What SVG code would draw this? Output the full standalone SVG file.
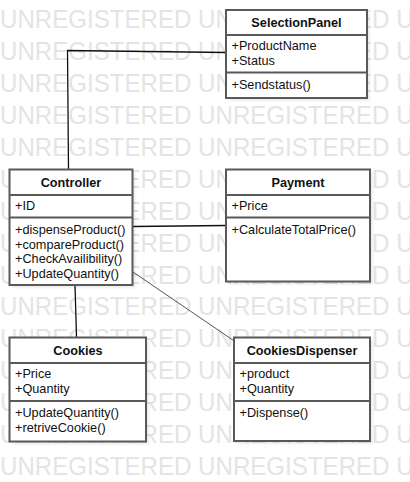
<svg xmlns="http://www.w3.org/2000/svg" width="410" height="482" viewBox="0 0 410 482">
<defs>
<style>
.wm{font-family:"Liberation Sans",Arial,sans-serif;font-size:25.5px;fill:#e4e4e4}
.box{fill:#fff;stroke:#595959;stroke-width:2}
.div{stroke:#595959;stroke-width:2}
.sh{fill:#000;opacity:0.07}
.t{font-family:"Liberation Sans",Arial,sans-serif;font-size:12.7px;fill:#111}
.h{font-family:"Liberation Sans",Arial,sans-serif;font-size:12.7px;font-weight:bold;fill:#111;text-anchor:middle}
.c{fill:none;stroke:#111;stroke-width:1.3}
.c2{fill:none;stroke:#555;stroke-width:1}
</style>
<filter id="blur" x="-10%" y="-10%" width="120%" height="120%"><feGaussianBlur stdDeviation="1.2"/></filter>
</defs>
<rect width="410" height="482" fill="#fff"/>
<g id="watermark">
<text class="wm" x="0" y="28.3" textLength="413.6" lengthAdjust="spacingAndGlyphs">UNREGISTERED UNREGISTERED U</text>
<text class="wm" x="0" y="60.2" textLength="413.6" lengthAdjust="spacingAndGlyphs">UNREGISTERED UNREGISTERED U</text>
<text class="wm" x="0" y="92.1" textLength="413.6" lengthAdjust="spacingAndGlyphs">UNREGISTERED UNREGISTERED U</text>
<text class="wm" x="0" y="124" textLength="413.6" lengthAdjust="spacingAndGlyphs">UNREGISTERED UNREGISTERED U</text>
<text class="wm" x="0" y="155.9" textLength="413.6" lengthAdjust="spacingAndGlyphs">UNREGISTERED UNREGISTERED U</text>
<text class="wm" x="0" y="187.8" textLength="413.6" lengthAdjust="spacingAndGlyphs">UNREGISTERED UNREGISTERED U</text>
<text class="wm" x="0" y="219.7" textLength="413.6" lengthAdjust="spacingAndGlyphs">UNREGISTERED UNREGISTERED U</text>
<text class="wm" x="0" y="251.6" textLength="413.6" lengthAdjust="spacingAndGlyphs">UNREGISTERED UNREGISTERED U</text>
<text class="wm" x="0" y="283.5" textLength="413.6" lengthAdjust="spacingAndGlyphs">UNREGISTERED UNREGISTERED U</text>
<text class="wm" x="0" y="315.4" textLength="413.6" lengthAdjust="spacingAndGlyphs">UNREGISTERED UNREGISTERED U</text>
<text class="wm" x="0" y="347.3" textLength="413.6" lengthAdjust="spacingAndGlyphs">UNREGISTERED UNREGISTERED U</text>
<text class="wm" x="0" y="379.2" textLength="413.6" lengthAdjust="spacingAndGlyphs">UNREGISTERED UNREGISTERED U</text>
<text class="wm" x="0" y="411.1" textLength="413.6" lengthAdjust="spacingAndGlyphs">UNREGISTERED UNREGISTERED U</text>
<text class="wm" x="0" y="443" textLength="413.6" lengthAdjust="spacingAndGlyphs">UNREGISTERED UNREGISTERED U</text>
<text class="wm" x="0" y="474.9" textLength="413.6" lengthAdjust="spacingAndGlyphs">UNREGISTERED UNREGISTERED U</text>
</g>
<g id="connectors">
<polyline class="c" points="226,52.5 67.5,50.5 68.5,169"/>
<line class="c" x1="133" y1="226.5" x2="226" y2="225.5"/>
<line class="c" x1="75" y1="285" x2="76.5" y2="337"/>
<line class="c2" x1="133" y1="272" x2="233.5" y2="340.5"/>
</g>
<g id="SelectionPanel">
<rect class="sh" x="229" y="13" width="141" height="88" filter="url(#blur)"/>
<rect class="box" x="226" y="10" width="141" height="88"/>
<line class="div" x1="226" y1="35" x2="367" y2="35"/>
<line class="div" x1="226" y1="72.5" x2="367" y2="72.5"/>
<text class="h" x="296.5" y="27">SelectionPanel</text>
<text class="t" x="231.5" y="50">+ProductName</text>
<text class="t" x="231.5" y="65">+Status</text>
<text class="t" x="231.5" y="89">+Sendstatus()</text>
</g>
<g id="Controller">
<rect class="sh" x="12.5" y="172.5" width="123" height="115.5" filter="url(#blur)"/>
<rect class="box" x="9.5" y="169.5" width="123" height="115.5"/>
<line class="div" x1="9.5" y1="195" x2="132.5" y2="195"/>
<line class="div" x1="9.5" y1="217.5" x2="132.5" y2="217.5"/>
<text class="h" x="71" y="187">Controller</text>
<text class="t" x="15" y="209.5">+ID</text>
<text class="t" x="15" y="234">+dispenseProduct()</text>
<text class="t" x="15" y="248.5">+compareProduct()</text>
<text class="t" x="15" y="263">+CheckAvailibility()</text>
<text class="t" x="15" y="277.5">+UpdateQuantity()</text>
</g>
<g id="Payment">
<rect class="sh" x="229" y="172.5" width="144" height="112" filter="url(#blur)"/>
<rect class="box" x="226" y="169.5" width="144" height="112"/>
<line class="div" x1="226" y1="195" x2="370" y2="195"/>
<line class="div" x1="226" y1="217.5" x2="370" y2="217.5"/>
<text class="h" x="298" y="187">Payment</text>
<text class="t" x="231.5" y="209.5">+Price</text>
<text class="t" x="231.5" y="234">+CalculateTotalPrice()</text>
</g>
<g id="Cookies">
<rect class="sh" x="12.5" y="340.5" width="136.5" height="104" filter="url(#blur)"/>
<rect class="box" x="9.5" y="337.5" width="136.5" height="104"/>
<line class="div" x1="9.5" y1="363" x2="146" y2="363"/>
<line class="div" x1="9.5" y1="401" x2="146" y2="401"/>
<text class="h" x="78" y="355">Cookies</text>
<text class="t" x="15" y="377.5">+Price</text>
<text class="t" x="15" y="392.5">+Quantity</text>
<text class="t" x="15" y="417">+UpdateQuantity()</text>
<text class="t" x="15" y="432">+retriveCookie()</text>
</g>
<g id="CookiesDispenser">
<rect class="sh" x="237" y="340.5" width="136" height="103.5" filter="url(#blur)"/>
<rect class="box" x="234" y="337.5" width="136" height="103.5"/>
<line class="div" x1="234" y1="363" x2="370" y2="363"/>
<line class="div" x1="234" y1="401" x2="370" y2="401"/>
<text class="h" x="302" y="355">CookiesDispenser</text>
<text class="t" x="239.5" y="377.5">+product</text>
<text class="t" x="239.5" y="392.5">+Quantity</text>
<text class="t" x="239.5" y="417">+Dispense()</text>
</g>
</svg>
